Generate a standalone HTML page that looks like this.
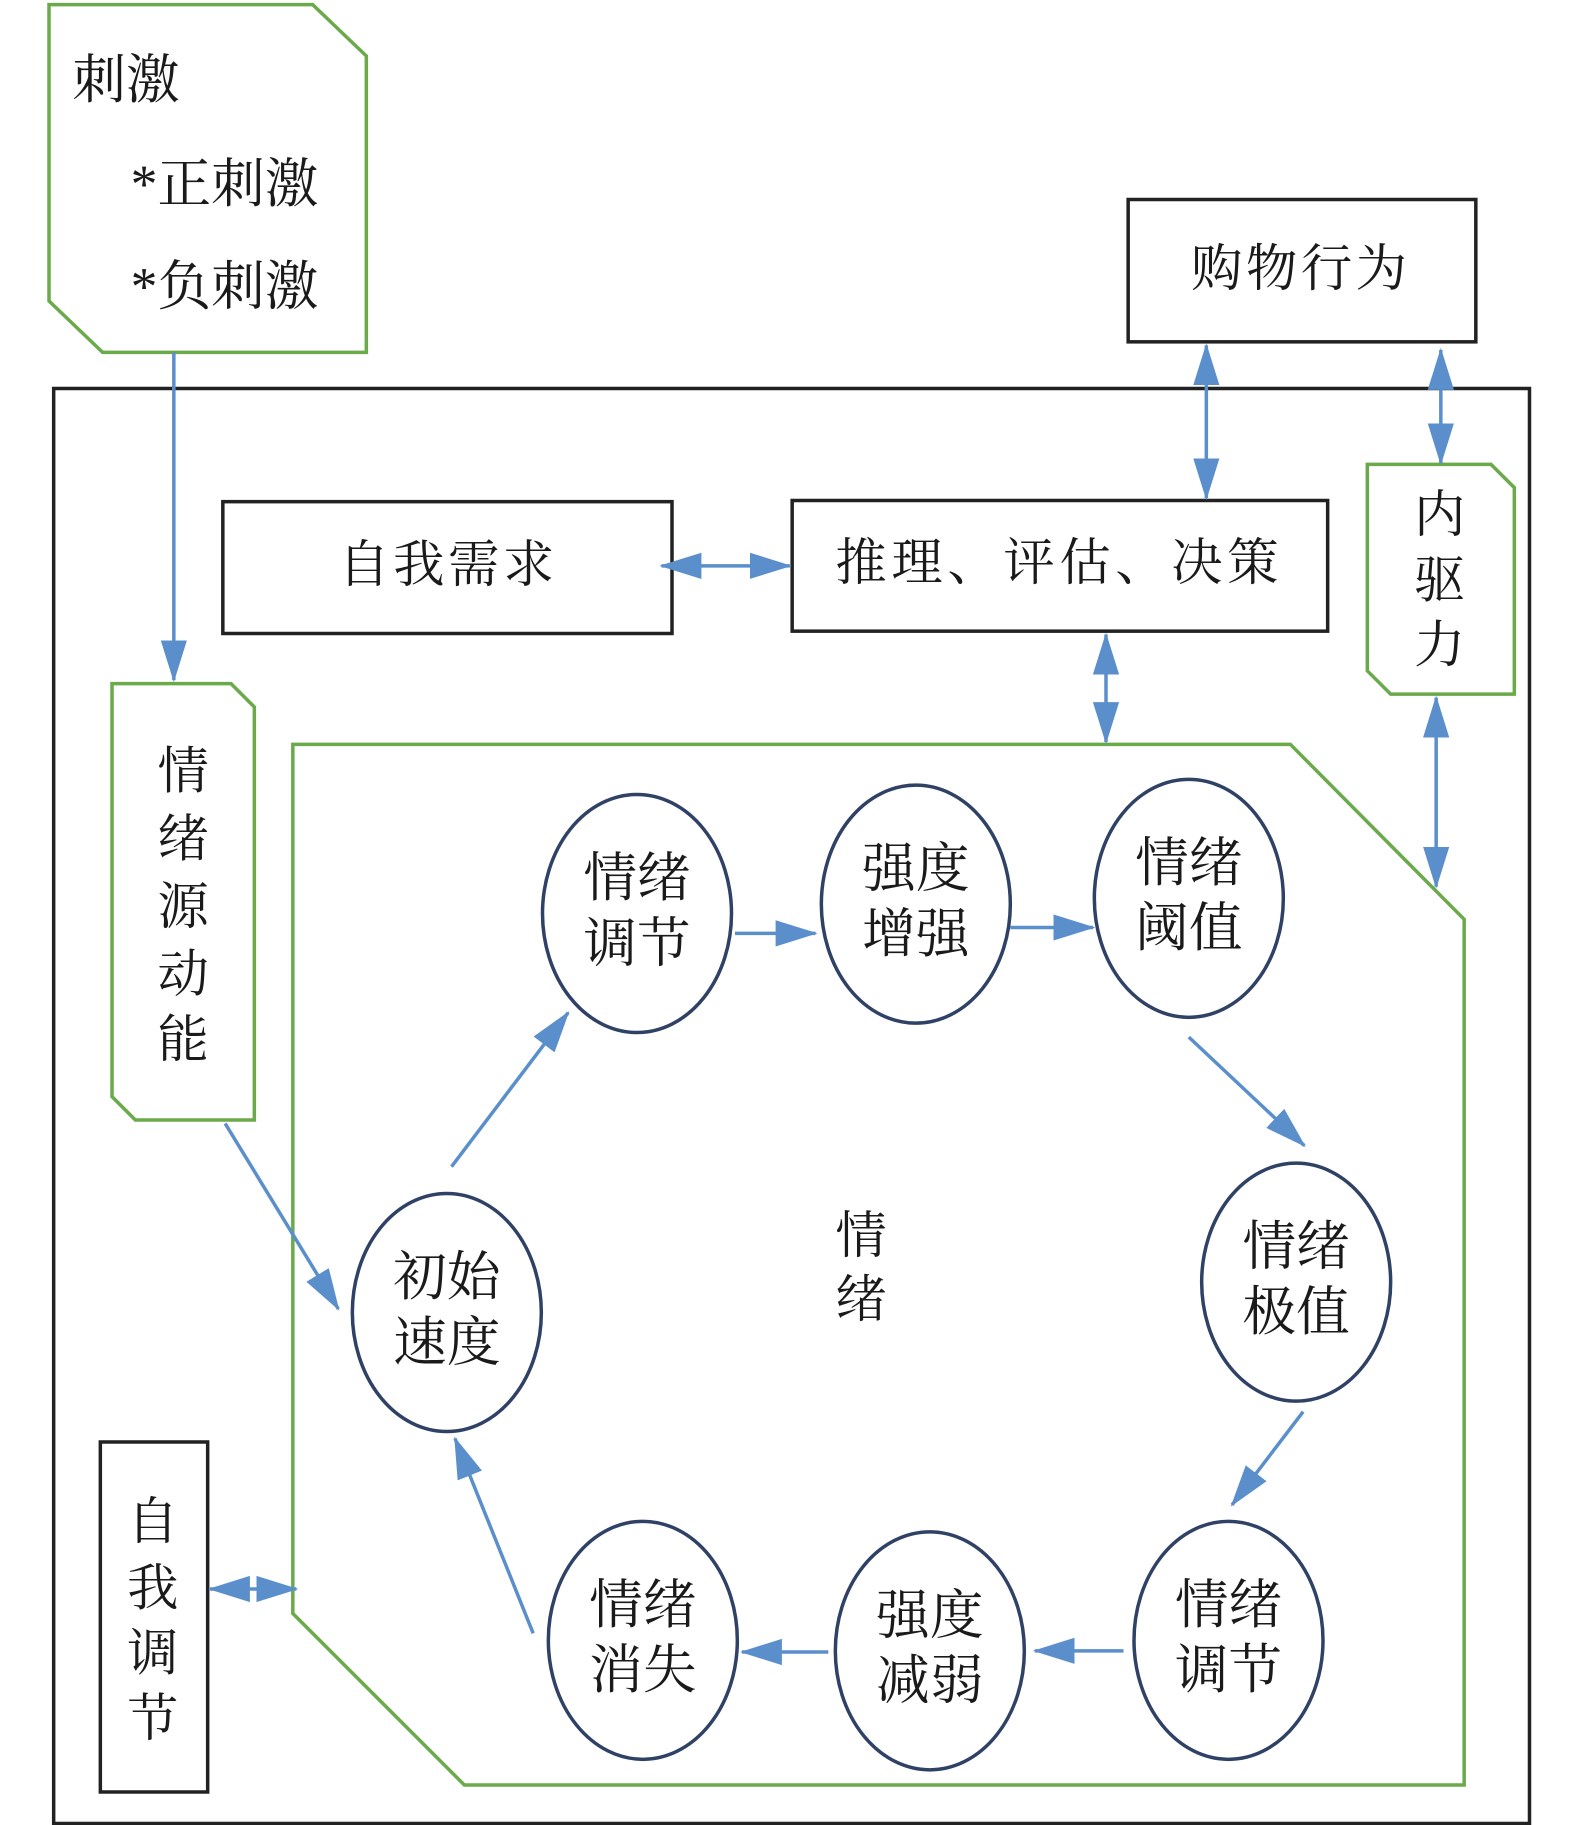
<!DOCTYPE html>
<html><head><meta charset="utf-8"><style>
html,body{margin:0;padding:0;background:#fff}
svg{display:block}
text{font-family:"Liberation Serif","Noto Serif CJK SC",serif;fill:#1a1a1a}
</style></head><body>
<svg width="1575" height="1825" viewBox="0 0 1350 1564.3" xmlns="http://www.w3.org/2000/svg">
<defs>
<marker id="a" viewBox="0 0 10 10" refX="9.5" refY="5" markerWidth="12" markerHeight="7.5" markerUnits="strokeWidth" orient="auto-start-reverse" preserveAspectRatio="none">
<path d="M0,0 L10,5 L0,10 z" fill="#5b8fcc"/></marker>
</defs>
<g fill="none" stroke-width="3">
<rect x="46" y="333" width="1265" height="1230" stroke="#222"/>
<rect x="967" y="171" width="298" height="122" stroke="#222"/>
<rect x="191" y="430" width="385" height="113" stroke="#222"/>
<rect x="679" y="429" width="459" height="112" stroke="#222"/>
<rect x="86" y="1236" width="92" height="300" stroke="#222"/>
<polygon points="42,4 268,4 314,48 314,302 88,302 42,258" stroke="#6aaa4a"/>
<polygon points="1172,398 1278,398 1298,418 1298,595 1192,595 1172,575" stroke="#6aaa4a"/>
<polygon points="96,586 198,586 218,606 218,960 116,960 96,940" stroke="#6aaa4a"/>
<polygon points="251,638 1106,638 1255,788 1255,1530 398,1530 251,1383" stroke="#6aaa4a"/>
<g stroke="#2f4266">
<ellipse cx="546" cy="783" rx="81" ry="102"/>
<ellipse cx="785" cy="775" rx="81" ry="102"/>
<ellipse cx="1019" cy="770" rx="81" ry="102"/>
<ellipse cx="1111" cy="1099" rx="81" ry="102"/>
<ellipse cx="1053" cy="1406" rx="81" ry="102"/>
<ellipse cx="797" cy="1415" rx="81" ry="102"/>
<ellipse cx="551" cy="1406" rx="81" ry="102"/>
<ellipse cx="383" cy="1125" rx="81" ry="102"/>
</g>
<g stroke="#5b8fcc" stroke-width="3">
<line x1="149" y1="302" x2="149" y2="583" marker-end="url(#a)"/>
<line x1="1034" y1="296" x2="1034" y2="427" marker-start="url(#a)" marker-end="url(#a)"/>
<line x1="1235" y1="300" x2="1235" y2="397" marker-start="url(#a)" marker-end="url(#a)"/>
<line x1="567" y1="485" x2="677" y2="485" marker-start="url(#a)" marker-end="url(#a)"/>
<line x1="948" y1="544" x2="948" y2="636" marker-start="url(#a)" marker-end="url(#a)"/>
<line x1="1231" y1="598" x2="1231" y2="760" marker-start="url(#a)" marker-end="url(#a)"/>
<line x1="193" y1="963" x2="290" y2="1122" marker-end="url(#a)"/>
<line x1="387" y1="1000" x2="487" y2="868" marker-end="url(#a)"/>
<line x1="630" y1="800" x2="699" y2="800" marker-end="url(#a)"/>
<line x1="866" y1="795" x2="937" y2="795" marker-end="url(#a)"/>
<line x1="1019" y1="889" x2="1118" y2="982" marker-end="url(#a)"/>
<line x1="1117" y1="1210" x2="1056" y2="1290" marker-end="url(#a)"/>
<line x1="963" y1="1415" x2="887" y2="1415" marker-end="url(#a)"/>
<line x1="710" y1="1416" x2="636" y2="1416" marker-end="url(#a)"/>
<line x1="457" y1="1400" x2="390" y2="1233" marker-end="url(#a)"/>
<line x1="180" y1="1362" x2="254" y2="1362" marker-start="url(#a)" marker-end="url(#a)"/>
</g>
</g>
<g font-size="46">
<text x="62" y="84">刺激</text>
<text x="112" y="173">*正刺激</text>
<text x="112" y="261">*负刺激</text>
</g>
<g font-size="44" text-anchor="middle">
<text x="1115" y="245" letter-spacing="3">购物行为</text>
<text x="384" y="499" letter-spacing="3">自我需求</text>
<text x="908" y="497" letter-spacing="4">推理、评估、决策</text>
<text x="1234" y="456">内</text><text x="1234" y="512">驱</text><text x="1234" y="568">力</text>
<text x="157" y="676">情</text><text x="157" y="734">绪</text><text x="157" y="792">源</text><text x="157" y="850">动</text><text x="157" y="906">能</text>
<text x="131" y="1319">自</text><text x="131" y="1376">我</text><text x="131" y="1432">调</text><text x="131" y="1488">节</text>
<text x="738" y="1074">情</text><text x="738" y="1129">绪</text>
</g>
<g font-size="46" text-anchor="middle">
<text x="546" y="768">情绪</text><text x="546" y="824">调节</text>
<text x="785" y="760">强度</text><text x="785" y="816">增强</text>
<text x="1019" y="755">情绪</text><text x="1019" y="811">阈值</text>
<text x="1111" y="1084">情绪</text><text x="1111" y="1140">极值</text>
<text x="1053" y="1391">情绪</text><text x="1053" y="1447">调节</text>
<text x="797" y="1400">强度</text><text x="797" y="1456">减弱</text>
<text x="551" y="1391">情绪</text><text x="551" y="1447">消失</text>
<text x="383" y="1110">初始</text><text x="383" y="1166">速度</text>
</g>
</svg>
</body></html>
